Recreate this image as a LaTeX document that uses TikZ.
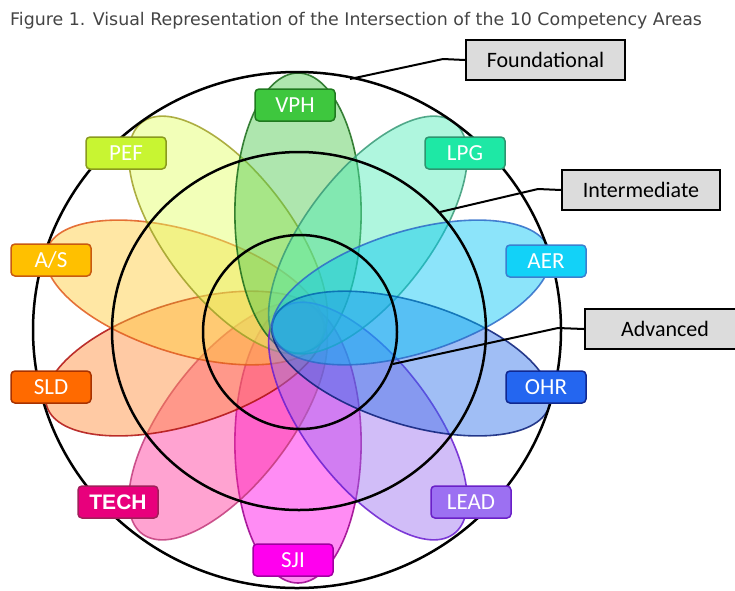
\documentclass[tikz,border=0pt]{standalone}
\usepackage{fontspec}
\setmainfont{Carlito}
\newfontfamily\titlefont{DejaVu Sans}
\newfontfamily\techfont{Liberation Sans}
\usetikzlibrary{calc}
\definecolor{cVPH}{HTML}{4CC84C}\definecolor{sVPH}{HTML}{1A6B1A}
\definecolor{cLPG}{HTML}{4DEBB5}\definecolor{sLPG}{HTML}{3A9A78}
\definecolor{cAER}{HTML}{00C4F4}\definecolor{sAER}{HTML}{2E6BC8}
\definecolor{cOHR}{HTML}{2C6FE8}\definecolor{sOHR}{HTML}{0A1E78}
\definecolor{cLEAD}{HTML}{9A6CF0}\definecolor{sLEAD}{HTML}{6A1ED0}
\definecolor{cSJI}{HTML}{FF00E6}\definecolor{sSJI}{HTML}{9A008C}
\definecolor{cTECH}{HTML}{FF3398}\definecolor{sTECH}{HTML}{C23C7C}
\definecolor{cSLD}{HTML}{FF8A36}\definecolor{sSLD}{HTML}{B01010}
\definecolor{cAS}{HTML}{FFCA36}\definecolor{sAS}{HTML}{E05A1E}
\definecolor{cPEF}{HTML}{E2FF62}\definecolor{sPEF}{HTML}{A0A028}
% label colours
\definecolor{lVPH}{HTML}{3EC73E}\definecolor{bVPH}{HTML}{1F7A1F}
\definecolor{lPEF}{HTML}{C8F532}\definecolor{bPEF}{HTML}{8A9A1E}
\definecolor{lLPG}{HTML}{1EE8A5}\definecolor{bLPG}{HTML}{2D9570}
\definecolor{lAS}{HTML}{FFC000}\definecolor{bAS}{HTML}{C85A10}
\definecolor{lAER}{HTML}{12D2F8}\definecolor{bAER}{HTML}{3A80D0}
\definecolor{lSLD}{HTML}{FF6A00}\definecolor{bSLD}{HTML}{A83200}
\definecolor{lOHR}{HTML}{2466F0}\definecolor{bOHR}{HTML}{102890}
\definecolor{lTECH}{HTML}{E8007C}\definecolor{bTECH}{HTML}{A0205A}
\definecolor{lLEAD}{HTML}{9C70F2}\definecolor{bLEAD}{HTML}{6A20C8}
\definecolor{lSJI}{HTML}{FF00EE}\definecolor{bSJI}{HTML}{A000A0}
\definecolor{calloutfill}{HTML}{DCDCDC}
\definecolor{titlegray}{HTML}{444444}
\begin{document}
\begin{tikzpicture}[x=1pt,y=-1pt,
  petal/.style 2 args={fill=#1, fill opacity=0.45, draw=#2, draw opacity=0.85, line width=1.6pt},
  lab/.style 2 args={draw=#2, fill=#1, rounded corners=4pt, line width=1.5pt,
    minimum width=80pt, minimum height=32pt, inner sep=0pt, text=white,
    font=\fontsize{23}{23}\selectfont},
  callout/.style={draw=black, fill=calloutfill, line width=2pt, minimum height=40pt,
    inner sep=0pt, font=\fontsize{22}{22}\selectfont},
  ring/.style={draw=black, line width=2.5pt},
  leader/.style={draw=black, line width=2pt}]
\useasboundingbox (0,0) rectangle (735,590);
\clip (0,0) rectangle (735,590);
\node[anchor=west, font=\titlefont\fontsize{17.4}{17.4}\selectfont, text=titlegray, inner sep=0pt] (title) at (10,21) {Figure 1. Visual Representation of the Intersection of the 10 Competency Areas};
% petals
\foreach \ang/\fc/\dc in {-90/cSJI/sSJI, -126/cTECH/sTECH, -162/cSLD/sSLD, 162/cAS/sAS, 126/cPEF/sPEF, 90/cVPH/sVPH, -54/cLEAD/sLEAD, 54/cLPG/sLPG, -18/cOHR/sOHR, 18/cAER/sAER}{
  \begin{scope}[shift={(298,328)}, xscale=1.035, rotate=\ang]
    \path[petal={\fc}{\dc}] (115pt,0) ellipse [x radius=140pt, y radius=61pt];
  \end{scope}
}
% rings
\path[ring] (297,330) ellipse [x radius=264pt, y radius=258pt];
\path[ring] (299,331) ellipse [x radius=187pt, y radius=179pt];
\path[ring] (300,332) circle [radius=97pt];
% labels
\node[lab={lVPH}{bVPH}] (vph) at (295,105) {VPH};
\node[lab={lPEF}{bPEF}] (pef) at (126,153) {PEF};
\node[lab={lLPG}{bLPG}] (lpg) at (465,153) {LPG};
\node[lab={lAS}{bAS}] (as) at (51,260) {A/S};
\node[lab={lAER}{bAER}] (aer) at (546,261) {AER};
\node[lab={lSLD}{bSLD}] (sld) at (51,387) {SLD};
\node[lab={lOHR}{bOHR}] (ohr) at (546,387) {OHR};
\node[lab={lTECH}{bTECH}, font=\techfont\bfseries\fontsize{21}{21}\selectfont] (tech) at (118,502) {TECH};
\node[lab={lLEAD}{bLEAD}] (lead) at (471,502) {LEAD};
\node[lab={lSJI}{bSJI}] (sji) at (293,560) {SJI};
% callouts
\node[callout, minimum width=159pt] (found) at (545.5,60) {Foundational};
\node[callout, minimum width=158pt] (inter) at (641,190) {Intermediate};
\node[callout, minimum width=160pt] (adv) at (665,329) {Advanced};
\coordinate (f1) at (350,79);
\coordinate (f2) at (443,59);
\coordinate (i1) at (440,212);
\coordinate (i2) at (538,189);
\coordinate (a1) at (393,364);
\coordinate (a2) at (558,328);
\path[leader] (f1) -- (f2) -- (found.west);
\path[leader] (i1) -- (i2) -- (inter.west);
\path[leader] (a1) -- (a2) -- (adv.west);
\end{tikzpicture}
\end{document}
